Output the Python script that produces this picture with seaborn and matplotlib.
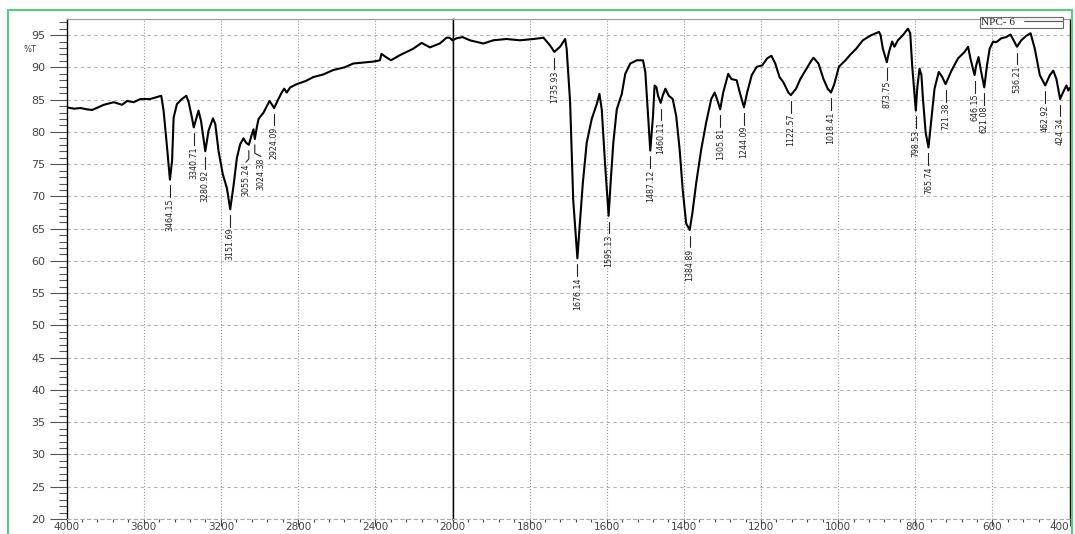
import numpy as np
import pandas as pd
import seaborn as sns
import matplotlib.pyplot as plt
from matplotlib.ticker import MultipleLocator, FixedLocator
from matplotlib.patches import Rectangle

# FTIR spectrum of NPC-6
wavenumber = [3998, 3960, 3927, 3895, 3867, 3807, 3755, 3712, 3686, 3652, 3617, 3566, 3509, 3497,
              3479, 3464.15, 3453, 3445, 3428, 3402, 3379, 3367, 3350, 3340.71, 3324, 3316, 3303,
              3280.92, 3264, 3241, 3229, 3212, 3190, 3169, 3151.69, 3134, 3117, 3100, 3083, 3069,
              3055.24, 3040, 3031, 3024.38, 3014, 3005, 2979, 2948, 2924.09, 2902, 2885, 2872, 2859,
              2841, 2807, 2760, 2721, 2670, 2617, 2560, 2514, 2410, 2376, 2368, 2350, 2319, 2272,
              2203, 2160, 2117, 2066, 2031, 2016, 2000,
              1990, 1974, 1955, 1920, 1894, 1860, 1825, 1790, 1764, 1747, 1735.93, 1721, 1708, 1704,
              1695, 1687, 1676.14, 1671, 1662, 1652, 1639, 1626, 1619, 1613, 1604, 1595.13, 1590,
              1583, 1574, 1561, 1552, 1539, 1522, 1506, 1500, 1494, 1487.12, 1480, 1476, 1471, 1467,
              1460.11, 1455, 1448, 1439, 1429, 1420, 1411, 1403, 1394, 1384.89, 1378, 1368, 1355,
              1342, 1329, 1320, 1314, 1305.81, 1298, 1285, 1277, 1263, 1255, 1244.09, 1236, 1224,
              1211, 1197, 1184, 1173, 1163, 1152, 1142, 1129, 1122.57, 1109, 1098, 1085, 1072, 1064,
              1051, 1038, 1027, 1018.41, 1010, 998, 981, 968, 953, 936, 914, 894, 890, 884, 873.75,
              868, 860, 854, 845, 832, 819, 813, 808, 798.53, 795, 789, 784, 780, 773, 765.74, 760,
              750, 739, 730, 721.38, 706, 689, 672, 663, 657, 646.15, 642, 636, 629, 621.08, 614, 607,
              598, 590, 577, 564, 553, 545, 536.21, 525, 512, 501, 490, 477, 462.92, 451, 442, 434,
              424.34, 417, 408, 403, 400]
transmittance = [83.8, 83.6, 83.7, 83.5, 83.4, 84.2, 84.6, 84.2, 84.8, 84.6, 85.1, 85.1, 85.6, 83.3,
                 77.6, 72.6, 75.5, 82.2, 84.3, 85.1, 85.6, 84.6, 82.2, 80.7, 82.5, 83.3, 81.7,
                 77.0, 80.2, 82.1, 81.2, 77.0, 73.4, 71.3, 68.0, 71.8, 76.0, 78.1, 79.0, 78.3,
                 78.0, 79.6, 80.4, 78.9, 80.7, 82.0, 83.0, 84.8, 83.7, 85.1, 86.1, 86.7, 86.1,
                 86.9, 87.4, 87.9, 88.5, 88.9, 89.6, 90.0, 90.6, 90.9, 91.1, 92.1, 91.7, 91.1, 91.9,
                 92.9, 93.8, 93.1, 93.7, 94.6, 94.6, 94.2,
                 94.5, 94.7, 94.2, 93.7, 94.2, 94.4, 94.2, 94.4, 94.6, 93.4, 92.4, 93.2, 94.4, 92.9,
                 84.6, 69.5, 60.4, 64.8, 72.1, 78.3, 82.0, 84.3, 85.9, 83.5, 74.7, 67.0, 72.1,
                 78.3, 83.5, 85.9, 89.0, 90.6, 91.1, 91.1, 89.3, 83.5, 77.1, 82.5, 87.2, 86.9, 85.6,
                 84.5, 85.6, 86.7, 85.6, 85.1, 82.5, 77.3, 71.0, 65.8, 64.8, 67.4, 72.1, 77.3,
                 81.5, 85.1, 86.1, 85.1, 83.5, 86.1, 89.0, 88.2, 88.0, 86.1, 83.8, 86.1, 88.8,
                 90.1, 90.3, 91.4, 91.8, 90.6, 88.5, 87.7, 86.1, 85.7, 86.7, 88.2, 89.5, 90.8, 91.5,
                 90.6, 88.2, 86.7, 86.1, 87.4, 90.1, 91.1, 92.0, 92.9, 94.2, 95.0, 95.5, 95.0, 92.9, 90.8,
                 92.4, 94.0, 93.2, 94.2, 95.0, 96.0, 95.3, 90.3, 83.3, 86.7, 89.8, 88.8, 85.1, 79.9, 77.6, 80.9,
                 86.7, 89.3, 88.5, 87.4, 89.5, 91.4, 92.4, 93.2, 91.4, 88.8, 90.3, 91.6, 89.3, 86.9, 90.3, 92.9,
                 94.0, 93.9, 94.5, 94.7, 95.1, 94.2, 93.2, 94.2, 94.9, 95.3, 92.9, 88.8, 87.2, 88.8, 89.5, 88.2,
                 85.1, 86.1, 87.2, 86.4, 86.8]

peak_labels = ['3464.15', '3340.71', '3280.92', '3151.69', '3055.24', '3024.38', '2924.09',
               '1735.93', '1676.14', '1595.13', '1487.12', '1460.11', '1384.89', '1305.81',
               '1244.09', '1122.57', '1018.41', '873.75', '798.53', '765.74', '721.38',
               '646.15', '621.08', '536.21', '462.92', '424.34']

df = pd.DataFrame({'wavenumber': wavenumber, 'T': transmittance})
peak_x = np.array([float(s) for s in peak_labels])
peak_y = np.interp(peak_x, df['wavenumber'][::-1], df['T'][::-1])

# small nudges (pixels) so crowded labels don't collide
nudge = {'3055.24': -3, '3024.38': 6}

sns.set_style('white')
plt.rcParams['font.family'] = ['DejaVu Sans']

fig = plt.figure(figsize=(10.75, 5.34), dpi=100)
W, H = 1075, 534
bot, top = 519, 19
ax1 = fig.add_axes([66.5 / W, 1 - bot / H, 386 / W, (bot - top) / H])
ax2 = fig.add_axes([452.5 / W, 1 - bot / H, 617 / W, (bot - top) / H])

for ax, lim, step in [(ax1, (4000, 2000), 400), (ax2, (2000, 400), 200)]:
    sns.lineplot(data=df, x='wavenumber', y='T', sort=False, estimator=None, ax=ax,
                 color='black', lw=1.5, label='NPC- 6' if ax is ax2 else None)
    ax.set_xlim(*lim)
    ax.set_ylim(20, 97.5)
    ax.set_xlabel('')
    ax.set_ylabel('')
    ax.xaxis.set_major_locator(MultipleLocator(step))
    ax.xaxis.set_minor_locator(MultipleLocator(step / 5))
    ax.yaxis.set_major_locator(FixedLocator(np.arange(20, 100, 5)))
    ax.yaxis.set_minor_locator(MultipleLocator(1))
    ax.grid(True, axis='y', which='major', color='#b5b5b5', ls=(0, (3, 3)), lw=0.8)
    ax.grid(True, axis='x', which='major', color='#9a9a9a', ls=':', lw=0.8)
    ax.tick_params(axis='x', which='major', direction='out', length=5, width=0.8,
                   color='#444', labelsize=7.5, labelcolor='#444', pad=-2.5, bottom=True)
    ax.tick_params(axis='x', which='minor', direction='out', length=2.5, width=0.8,
                   color='#444', bottom=True)
    ax.spines['top'].set_color('#999999')
    ax.spines['bottom'].set_color('#aaaaaa')
    ax.spines['bottom'].set_linestyle((0, (3, 3)))
    for s in ['left', 'right']:
        ax.spines[s].set_color('black')
        ax.spines[s].set_linewidth(1.0)
    for s in ax.spines.values():
        s.set_visible(True)

    # peak annotations
    px_per_unit = (386 / 2000) if ax is ax1 else (617 / 1600)
    for lab, px, py in zip(peak_labels, peak_x, peak_y):
        if lim[1] <= px <= lim[0]:
            tx = px - nudge.get(lab, 0) / px_per_unit
            ax.plot([px, px, tx], [py - 0.9, py - 2.2, py - 2.7], color='#222', lw=0.8)
            ax.text(tx, py - 2.9, lab, rotation=90, ha='center', va='top', fontsize=6.3,
                    color='#222', family=['Liberation Sans Narrow', 'DejaVu Sans'],
                    fontstretch='condensed')

ax1.tick_params(axis='y', which='major', direction='out', length=12, width=0.8, color='#555',
                labelsize=8, labelcolor='#444', pad=3, left=True)
ax1.tick_params(axis='y', which='minor', direction='out', length=6, width=0.8, color='#555', left=True)
ax1.set_yticks(np.arange(20, 100, 5))
ax1.set_yticklabels([str(v) for v in range(20, 100, 5)])

ax2.tick_params(axis='y', which='both', left=False, right=False, labelleft=False)
ax2.xaxis.set_major_locator(FixedLocator(np.arange(1800, 399, -200)))
fig.canvas.draw()
ax2.get_xticklabels()[-1].set_horizontalalignment('right')

fig.text(30 / W, 1 - 50 / H, '%T', fontsize=6, color='#444', ha='center', va='center')

leg = ax2.legend(loc='upper right', bbox_to_anchor=(1063 / W, 1 - 17 / H), bbox_transform=fig.transFigure,
                 markerfirst=False, frameon=True, fancybox=False, handlelength=3.5,
                 borderpad=0.05, handletextpad=0.8, borderaxespad=0,
                 prop={'family': 'Liberation Serif', 'size': 8})
leg.get_frame().set_edgecolor('#444')
leg.get_frame().set_linewidth(0.8)
for h in leg.get_lines():
    h.set_linewidth(0.8)
    h.set_color('#555')

fig.add_artist(Rectangle((8 / W, -0.1), (1072 - 8) / W, 1.1 - 10 / H, transform=fig.transFigure,
                         fill=False, ec='#55cc80', lw=1.5))

fig.savefig('out.png', dpi=100)
